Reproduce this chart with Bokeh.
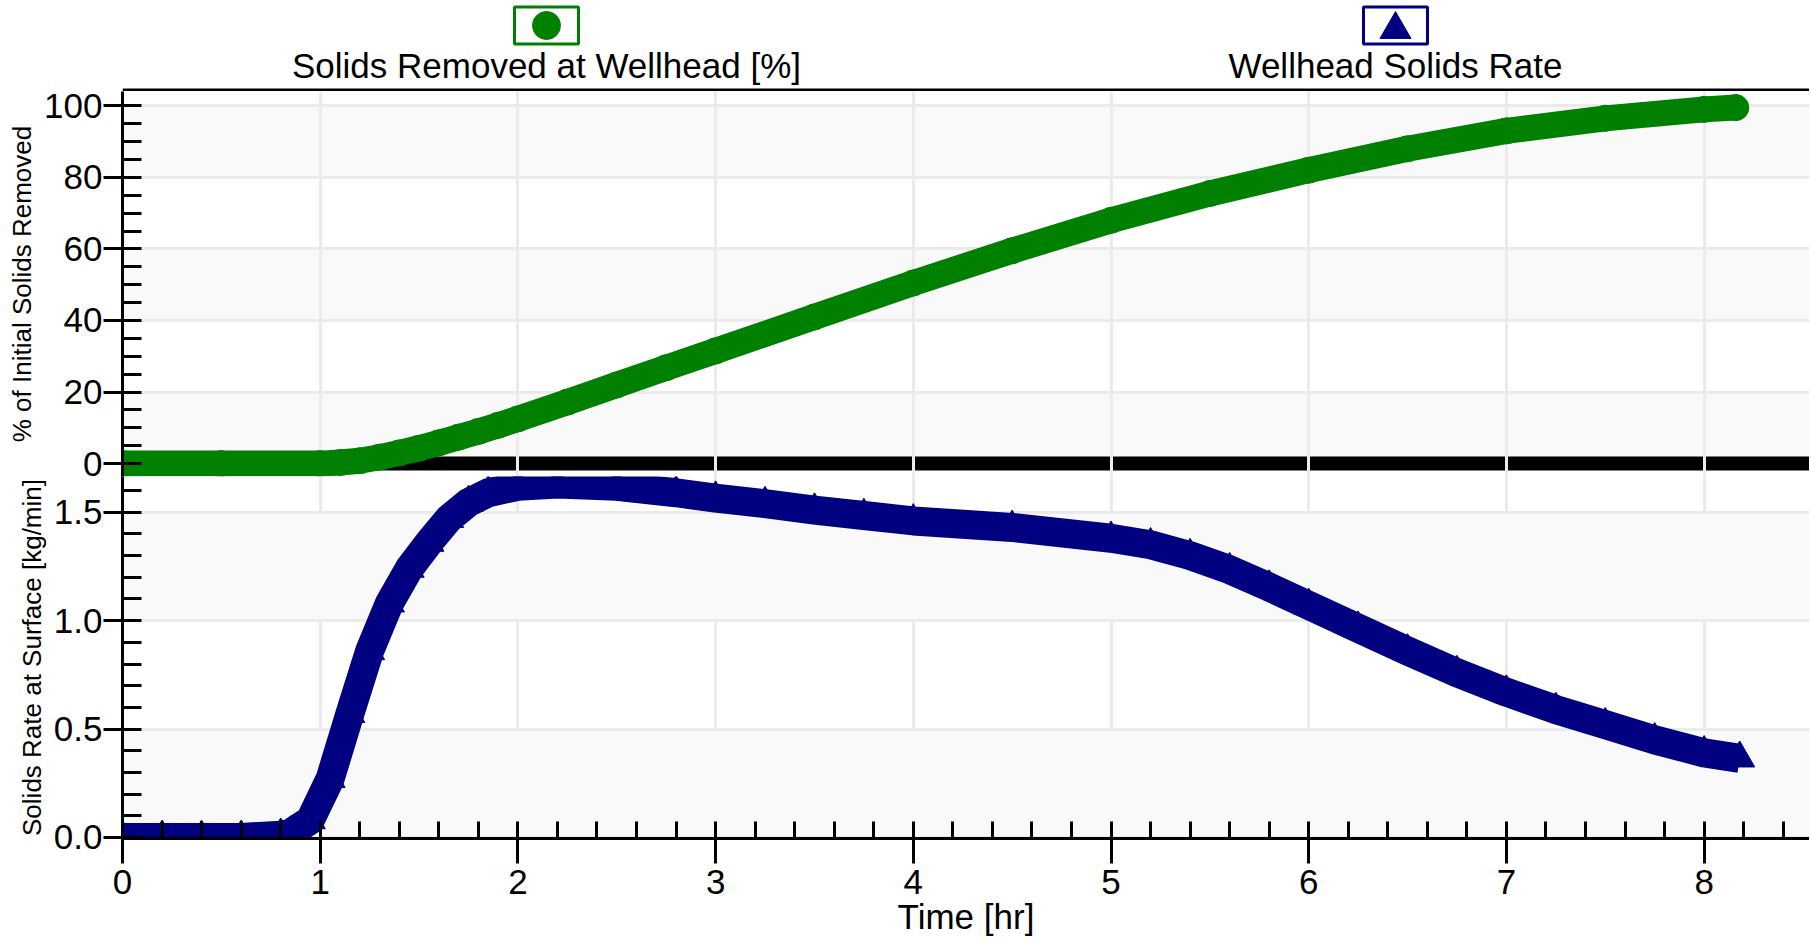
from bokeh.plotting import figure
from bokeh.layouts import column
from bokeh.models import Range1d, SingleIntervalTicker, Span, PrintfTickFormatter
from bokeh.embed import file_html
from bokeh.resources import INLINE
from bokeh.core.properties import value

# ---------------- data ----------------
removed_time = [0.0, 0.5, 1.0, 1.1, 1.2, 1.3, 1.4, 1.5, 1.6, 1.7, 1.8, 1.9, 2.0,
                2.25, 2.5, 2.75, 3.0, 3.5, 4.0, 4.5, 5.0, 5.5, 6.0, 6.5, 7.0,
                7.5, 8.0, 8.16]
removed_pct = [0, 0, 0, 0.3, 0.8, 1.8, 3.0, 4.3, 5.8, 7.4, 9.0, 10.7, 12.5,
               17.2, 22, 26.8, 31.5, 41, 50.5, 59.5, 68, 75.5, 82, 88, 93,
               96.5, 99, 99.5]

rate_time = [0.0, 0.2, 0.4, 0.6, 0.8, 0.85, 0.95, 1.05, 1.15, 1.25, 1.35, 1.45,
             1.55, 1.65, 1.75, 1.85, 2.0, 2.2, 2.5, 2.8, 3.0, 3.25, 3.5, 3.75,
             4.0, 4.5, 5.0, 5.2, 5.4, 5.6, 5.8, 6.0, 6.25, 6.5, 6.75, 7.0,
             7.25, 7.5, 7.75, 8.0, 8.18]
rate_kg_min = [0, 0, 0, 0, 0.01, 0.02, 0.08, 0.27, 0.57, 0.86, 1.08, 1.24,
               1.36, 1.47, 1.545, 1.59, 1.62, 1.63, 1.62, 1.59, 1.565, 1.54, 1.51, 1.485,
               1.46, 1.43, 1.38, 1.35, 1.30, 1.235, 1.155, 1.07, 0.965, 0.86, 0.76, 0.67,
               0.59, 0.52, 0.45, 0.39, 0.365]

legend_labels = ["Solids Removed at Wellhead [%]", "Wellhead Solids Rate"]
x_title = "Time [hr]"
y_title_top = "% of Initial Solids Removed"
y_title_bottom = "Solids Rate at Surface [kg/min]"

# ---------------- styles ----------------
GREEN = "#008000"
NAVY = "#000080"
FONT = "Liberation Sans"
W = 1809
LEFT = 122
GRID = "#ebebeb"
BAND = "#f9f9f9"

x_range = Range1d(0, 8.533)


def style_y(p, title, interval, minor):
    ax = p.yaxis[0]
    ax.ticker = SingleIntervalTicker(interval=interval, num_minor_ticks=minor)
    ax.axis_label = title
    ax.axis_label_text_font = FONT
    ax.axis_label_text_font_size = "26px"
    ax.axis_label_text_font_style = "normal"
    ax.axis_label_text_color = "black"
    ax.axis_label_standoff = 4
    ax.major_label_text_font = FONT
    ax.major_label_text_font_size = "35px"
    ax.major_label_text_color = "black"
    ax.major_label_standoff = 1
    ax.axis_line_width = 3
    ax.axis_line_color = "black"
    ax.major_tick_in = 0
    ax.major_tick_out = 19
    ax.major_tick_line_width = 3
    ax.minor_tick_in = 19
    ax.minor_tick_out = 0
    ax.minor_tick_line_width = 3
    g = p.ygrid[0]
    g.ticker = ax.ticker
    g.grid_line_color = GRID
    g.grid_line_width = 3
    g.band_fill_color = BAND
    g.band_fill_alpha = 1.0


def style_xgrid(p):
    g = p.xgrid[0]
    g.ticker = SingleIntervalTicker(interval=1)
    g.grid_line_color = GRID
    g.grid_line_width = 3


# ---------------- legend strip (page pixel coordinates) ----------------
leg = figure(width=W, height=91, x_range=Range1d(LEFT, W), y_range=Range1d(0, 91),
             output_backend="svg", toolbar_location=None,
             min_border_left=LEFT, min_border_right=0, min_border_top=0, min_border_bottom=0)
leg.axis.visible = False
leg.grid.visible = False
leg.outline_line_color = None
leg_x = [546, 1395]
leg.rect(x=leg_x, y=[66, 66], width=64, height=37, width_units="screen",
         height_units="screen", fill_color=None, line_color=[GREEN, NAVY], line_width=3)
leg.scatter(x=[leg_x[0]], y=[66], marker="circle", size=28, color=GREEN)
leg.scatter(x=[leg_x[1]], y=[62], marker="triangle", size=31, color=NAVY)
leg.text(x=leg_x, y=[26, 26], text=legend_labels, text_align="center",
         text_baseline="middle", text_font=value(FONT), text_font_size="35px",
         text_color="black")
leg.add_layout(Span(location=1.5, dimension="width", line_color="black", line_width=3))

# ---------------- top pane ----------------
p1 = figure(width=W, height=399, x_range=x_range, y_range=Range1d(-3.6, 104),
            output_backend="svg", toolbar_location=None,
            min_border_left=LEFT, min_border_right=0, min_border_top=7, min_border_bottom=7)
p1.margin = (-7, 0, 0, 0)
p1.border_fill_alpha = 0
p1.xaxis.visible = False
p1.outline_line_color = None
style_y(p1, y_title_top, 20, 4)
style_xgrid(p1)
zero = Span(location=0, dimension="width", line_color="black", line_width=14, level="underlay")
p1.center = [p1.ygrid[0], zero, p1.xgrid[0]]
p1.line(removed_time, removed_pct, line_width=26, color=GREEN, line_join="round", line_cap="round")
p1.scatter(removed_time, removed_pct, marker="circle", size=26, color=GREEN)

# ---------------- bottom pane ----------------
p2 = figure(width=W, height=468, x_range=x_range, y_range=Range1d(-0.005, 1.665),
            output_backend="svg", toolbar_location=None,
            min_border_left=LEFT, min_border_right=0, min_border_top=0, min_border_bottom=106)
p2.margin = (-7, 0, 0, 0)
p2.border_fill_alpha = 0
p2.outline_line_color = None
style_y(p2, y_title_bottom, 0.5, 5)
p2.yaxis[0].formatter = PrintfTickFormatter(format="%.1f")
style_xgrid(p2)
xa = p2.xaxis[0]
xa.ticker = SingleIntervalTicker(interval=1, num_minor_ticks=5)
xa.axis_label = x_title
xa.axis_label_text_font = FONT
xa.axis_label_text_font_size = "35px"
xa.axis_label_text_font_style = "normal"
xa.axis_label_text_color = "black"
xa.axis_label_standoff = 0
xa.major_label_text_font = FONT
xa.major_label_text_font_size = "35px"
xa.major_label_text_color = "black"
xa.major_label_standoff = 6
xa.axis_line_width = 3
xa.major_tick_in = 0
xa.major_tick_out = 25
xa.major_tick_line_width = 3
xa.minor_tick_in = 17
xa.minor_tick_out = 0
xa.minor_tick_line_width = 3
p2.line(rate_time, rate_kg_min, line_width=29, color=NAVY, line_join="round")
p2.scatter(rate_time, rate_kg_min, marker="triangle", size=30, color=NAVY)

layout = column(leg, p1, p2, spacing=0)
open("out.html", "w").write(file_html(layout, INLINE))
